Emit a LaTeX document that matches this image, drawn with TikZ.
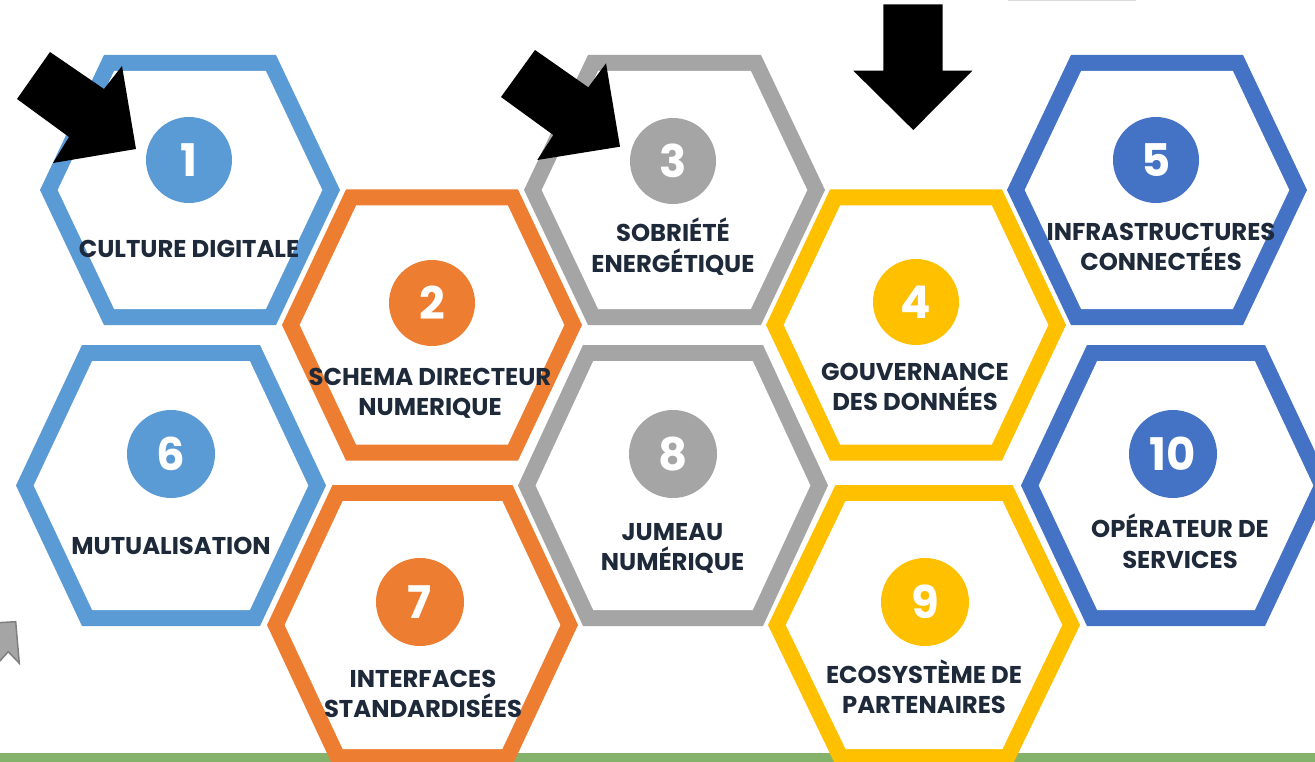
\documentclass[tikz,border=0pt]{standalone}
\usepackage{fontspec}
\setmainfont{Poppins}
\definecolor{lblue}{HTML}{5B9BD5}
\definecolor{orng}{HTML}{ED7D31}
\definecolor{gry}{HTML}{A5A5A5}
\definecolor{yell}{HTML}{FFC000}
\definecolor{dblue}{HTML}{4472C4}
\definecolor{navy}{HTML}{1E2A3A}
\definecolor{grn}{HTML}{84B26A}
\newcommand\hsw{16}
% cx cy W H T color
\newcommand\hexcell[6]{%
  \pgfmathsetmacro\hW{#3}\pgfmathsetmacro\hH{#4}\pgfmathsetmacro\hT{#5}%
  \pgfmathsetmacro\hr{(\hW-\hT)/\hH}%
  \pgfmathsetmacro\hoff{\hsw*sqrt(1+\hr*\hr)}%
  \pgfmathsetmacro\iW{\hW-\hoff}%
  \pgfmathsetmacro\iH{\hH-\hsw}%
  \pgfmathsetmacro\iT{\iW-\hr*\iH}%
  \fill[#6] (#1-\hW,#2) -- (#1-\hT,#2-\hH) -- (#1+\hT,#2-\hH) -- (#1+\hW,#2)
     -- (#1+\hT,#2+\hH) -- (#1-\hT,#2+\hH) -- cycle;
  \fill[white] (#1-\iW,#2) -- (#1-\iT,#2-\iH) -- (#1+\iT,#2-\iH) -- (#1+\iW,#2)
     -- (#1+\iT,#2+\iH) -- (#1-\iT,#2+\iH) -- cycle;
}
\tikzset{
  lab/.style={font=\bfseries\fontsize{24.3}{30.5}\selectfont, text=navy, align=center, anchor=base, inner sep=0pt},
  numc/.style={circle, minimum size=86pt, inner sep=0pt, text=white, font=\bfseries\fontsize{45}{45}\selectfont},
  blk/.style={fill=black}
}
\begin{document}
\begin{tikzpicture}[x=1pt,y=-1pt]
\useasboundingbox (0,0) rectangle (1315,762);
\clip (0,0) rectangle (1315,762);
\fill[white] (0,0) rectangle (1315,762);
% top faint line
\draw[line width=1.5pt, color=black!15] (1008,0.5) -- (1136,0.5);
% green bar
\fill[grn] (0,753) rectangle (1315,762);
% hexagons
\hexcell{190}{190}{150}{135}{86}{lblue}
\hexcell{432}{325}{150}{135.5}{86}{orng}
\hexcell{674.5}{190}{150.5}{135}{86.5}{gry}
\hexcell{916}{325}{150}{135.5}{86}{yell}
\hexcell{1157}{190}{150}{135}{86}{dblue}
\hexcell{171}{485.5}{155}{140.5}{89}{lblue}
\hexcell{422.5}{625}{155.5}{140}{90}{orng}
\hexcell{673}{485.5}{155}{140.5}{90}{gry}
\hexcell{924}{625}{156}{140}{88.5}{yell}
\hexcell{1176}{485.5}{155}{140.5}{89}{dblue}
% grey ribbon
\filldraw[fill=gry, draw=black!50, line width=1.5pt] (-2,622.7) -- (15.7,621.7) -- (19.3,663.3) -- (8.3,651.7) -- (-2,663) -- cycle;
% black arrows
\fill[blk] (17,99) -- (50,52) -- (104,89) -- (122,66) -- (136,149) -- (53,163) -- (69,137) -- cycle;
\fill[blk] (501,97) -- (535,50) -- (588.3,87.3) -- (606,63.3) -- (620,146.7) -- (537.3,160) -- (553.3,135) -- cycle;
\fill[blk] (883.3,4.3) -- (942.7,4.3) -- (942.7,70.7) -- (972.3,70.7) -- (913.3,130) -- (853.3,70.7) -- (883.3,70.7) -- cycle;
% number circles
\node[numc, fill=lblue] (c1) at (189,160) {1};
\node[numc, fill=orng] (c2) at (432,303) {2};
\node[numc, fill=gry] (c3) at (673,161) {3};
\node[numc, fill=yell] (c4) at (916,302) {4};
\node[numc, fill=dblue] (c5) at (1156,160) {5};
\node[numc, fill=lblue, minimum size=88pt] (c6) at (171,454) {6};
\node[numc, fill=orng, minimum size=88pt] (c7) at (420,602) {7};
\node[numc, fill=gry, minimum size=88pt] (c8) at (673,454) {8};
\node[numc, fill=yell, minimum size=88pt] (c9) at (925,602) {9};
\node[numc, fill=dblue, minimum size=88pt] (c10) at (1173,454) {10};
% labels (base anchor = baseline of the last line)
\node[lab] (t1) at (189,258) {CULTURE DIGITALE};
\node[lab] (t2) at (430,415.5) {SCHEMA DIRECTEUR\\NUMERIQUE};
\node[lab] (t3) at (673,272.5) {SOBRIÉTÉ\\ENERGÉTIQUE};
\node[lab] (t4) at (915,410.5) {GOUVERNANCE\\DES DONNÉES};
\node[lab] (t5) at (1161,270.5) {INFRASTRUCTURES\\CONNECTÉES};
\node[lab] (t6) at (171,554.5) {MUTUALISATION};
\node[lab] (t7) at (423,717.5) {INTERFACES\\STANDARDISÉES};
\node[lab] (t8) at (672.5,570.5) {JUMEAU\\NUMÉRIQUE};
\node[lab] (t9) at (924,713.5) {ECOSYSTÈME DE\\PARTENAIRES};
\node[lab] (t10) at (1180,568) {OPÉRATEUR DE\\SERVICES};
\end{tikzpicture}
\end{document}
